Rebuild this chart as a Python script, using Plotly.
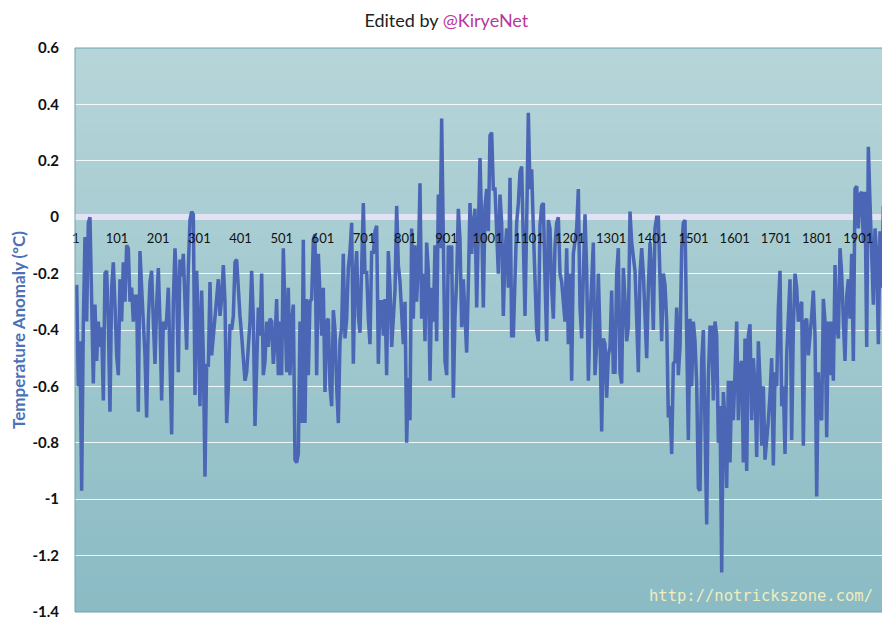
import numpy as np
import plotly.graph_objects as go

# anomaly readings (degC), about one every 4 years, split into stretches
ANOM_1 = [
    -0.24, -0.60, -0.44, -0.97, -0.38, -0.07, -0.37, -0.02, 0.00, -0.25,
    -0.59, -0.31, -0.51, -0.37, -0.46, -0.39, -0.65, -0.20, -0.19, -0.37,
    -0.69, -0.25, -0.16, -0.31, -0.49, -0.56, -0.22, -0.37, -0.16, -0.30,
    -0.10, -0.11, -0.30, -0.25, -0.37, -0.28, -0.28, -0.69, -0.12, -0.25,
    -0.39, -0.49, -0.71, -0.37, -0.23, -0.19, -0.37, -0.52, -0.31, -0.18,
    -0.37, -0.65, -0.37,
]
ANOM_2 = [
    -0.40, -0.36, -0.25, -0.51, -0.77, -0.30, -0.11, -0.25, -0.55, -0.15,
    -0.21, -0.13, -0.31, -0.47, -0.18, -0.01, 0.02, 0.01, -0.63, -0.19,
    -0.37, -0.67, -0.26, -0.49, -0.92, -0.52, -0.53, -0.23, -0.49, -0.43,
    -0.37, -0.30, -0.22, -0.35, -0.29, -0.17, -0.30, -0.73, -0.60, -0.38,
    -0.40, -0.35, -0.16, -0.15, -0.28, -0.35, -0.42, -0.49, -0.58, -0.55,
    -0.44, -0.37, -0.19, -0.36, -0.74, -0.51, -0.32,
]
ANOM_3 = [
    -0.42, -0.20, -0.56, -0.51, -0.37, -0.46, -0.36, -0.37, -0.52, -0.44,
    -0.29, -0.56, -0.37, -0.56, -0.11, -0.35, -0.55, -0.25, -0.56, -0.37,
    -0.31, -0.86, -0.87, -0.84, -0.37, -0.73, -0.08, -0.73, -0.29, -0.56,
    -0.30, -0.29, -0.08, -0.06, -0.56, -0.13, -0.25, -0.42, -0.25, -0.62,
    -0.37, -0.36, -0.60, -0.67, -0.33, -0.40, -0.60, -0.73, -0.44, -0.39,
    -0.13, -0.43, -0.36, -0.18, -0.12, -0.02, -0.52,
]
ANOM_4 = [
    -0.22, -0.12, -0.35, -0.41, -0.13, 0.05, -0.20, -0.19, -0.36, -0.45,
    -0.12, -0.13, -0.05, -0.03, -0.52, -0.30, -0.30, -0.42, -0.29, -0.56,
    -0.12, -0.25, -0.46, -0.37, -0.26, 0.04, -0.17, -0.23, -0.37, -0.45,
    -0.30, -0.80, -0.57, -0.72, -0.04, -0.36, -0.10, -0.30, -0.16, 0.12,
    -0.36, -0.20, -0.44, -0.09, -0.19, -0.58, -0.25, -0.37, -0.10, -0.44,
    0.08, -0.11, 0.35, -0.11, -0.51, -0.56, -0.10,
]
ANOM_5 = [
    -0.20, -0.10, -0.64, -0.35, -0.22, 0.03, -0.08, -0.39, -0.22, -0.37,
    -0.48, -0.24, 0.05, -0.13, -0.02, 0.03, -0.32, -0.05, 0.21, -0.02,
    -0.32, 0.04, 0.10, -0.05, 0.29, 0.30, 0.10, 0.10, -0.02, -0.20,
    0.08, -0.02, -0.35, -0.13, -0.04, -0.25, 0.14, -0.42, -0.42, -0.16,
    -0.02, 0.05, 0.16, 0.18, -0.05, -0.35, -0.02, 0.37, 0.10, 0.17,
    -0.04, -0.25, -0.40, -0.44, -0.03, 0.04, 0.05,
]
ANOM_6 = [
    -0.22, -0.44, -0.01, -0.04, -0.25, -0.36, -0.10, -0.02, 0.00, -0.20,
    -0.23, -0.30, -0.37, -0.11, -0.45, -0.20, -0.58, -0.13, -0.09, -0.04,
    0.10, -0.32, -0.43, -0.16, 0.01, -0.19, -0.58, -0.37, -0.22, -0.09,
    -0.56, -0.45, -0.20, -0.42, -0.76, -0.43, -0.45, -0.64, -0.49, -0.46,
    -0.26, -0.55, -0.55, -0.20, -0.11, -0.55, -0.59, -0.18, -0.29, -0.44,
    -0.39, 0.02, -0.09, -0.13, -0.19, -0.36, -0.55,
]
ANOM_7 = [
    -0.20, -0.11, -0.20, -0.32, -0.50, -0.25, -0.09, -0.20, -0.40, -0.04,
    0.00, 0.00, -0.23, -0.44, -0.20, -0.24, -0.37, -0.71, -0.67, -0.84,
    -0.52, -0.51, -0.32, -0.56, -0.46, -0.11, -0.02, -0.01, -0.42, -0.79,
    -0.36, -0.60, -0.37, -0.44, -0.59, -0.96, -0.97, -0.51, -0.40, -0.71,
    -1.09, -0.57, -0.39, -0.39, -0.65, -0.37, -0.42, -0.80, -0.67, -1.26,
    -0.62, -0.72, -0.96, -0.58, -0.87, -0.58, -0.72,
]
ANOM_8 = [
    -0.55, -0.37, -0.72, -0.53, -0.51, -0.87, -0.43, -0.90, -0.42, -0.38,
    -0.72, -0.50, -0.60, -0.85, -0.44, -0.58, -0.81, -0.60, -0.86, -0.80,
    -0.72, -0.63, -0.50, -0.88, -0.55, -0.60, -0.32, -0.19, -0.67, -0.60,
    -0.84, -0.49, -0.31, -0.22, -0.79, -0.39, -0.20, -0.25, -0.37, -0.32,
    -0.30, -0.81, -0.37, -0.36, -0.49, -0.43, -0.35, -0.26, -0.42, -0.99,
    -0.55,
]
ANOM_9 = [
    -0.70, -0.72, -0.29, -0.37, -0.78, -0.37, -0.56, -0.37, -0.58, -0.17,
    -0.39, -0.43, -0.11, -0.20, -0.37, -0.51, -0.28, -0.22, -0.36, -0.13,
    -0.51, 0.10, 0.11, -0.04, 0.08, 0.09, -0.09, 0.09, -0.46, 0.25,
    0.05, -0.11, -0.31, -0.04, -0.13, -0.45, -0.05, -0.25, 0.04,
]
FIRST_YEAR = 3
LAST_YEAR = 1962

X_TICKS = [1, 101, 201, 301, 401, 501, 601, 701, 801, 901,
           1001, 1101, 1201, 1301, 1401, 1501, 1601, 1701, 1801, 1901]
Y_TICKS = [0.6, 0.4, 0.2, 0.0, -0.2, -0.4, -0.6, -0.8, -1.0, -1.2, -1.4]
Y_TICK_TEXT = ["0.6", "0.4", "0.2", "0", "-0.2", "-0.4", "-0.6", "-0.8",
               "-1", "-1.2", "-1.4"]

anomaly = ANOM_1 + ANOM_2 + ANOM_3 + ANOM_4 + ANOM_5 + ANOM_6 + ANOM_7 + ANOM_8 + ANOM_9
years = np.linspace(FIRST_YEAR, LAST_YEAR, len(anomaly))

Y_MIN, Y_MAX = -1.4, 0.6
TOP_RGB = (182, 213, 217)
BOTTOM_RGB = (139, 187, 196)

fig = go.Figure()

# vertical gradient of the plot background, built from overlapping strips
n_strips = 60
step = (Y_MAX - Y_MIN) / n_strips
for i in range(n_strips):
    t = i / (n_strips - 1)
    r, g, b = (round(a + (c - a) * t) for a, c in zip(TOP_RGB, BOTTOM_RGB))
    y1 = Y_MAX - step * i
    y0 = max(Y_MIN, y1 - step * 1.6)
    fig.add_shape(
        type="rect", xref="paper", yref="y",
        x0=0, x1=1, y0=y0, y1=y1,
        fillcolor=f"rgb({r},{g},{b})", line={"width": 0}, layer="below",
    )

fig.add_shape(
    type="rect", xref="paper", yref="paper", x0=0, x1=1, y0=0, y1=1,
    line={"color": "#6fa3ad", "width": 1}, layer="above",
)

fig.add_trace(
    go.Scatter(
        x=years, y=anomaly, mode="lines",
        line={"color": "#4a66b4", "width": 3.5},
        hoverinfo="skip", showlegend=False,
    )
)

fig.add_annotation(
    text="http://notrickszone.com/", xref="paper", yref="paper",
    x=0.988, y=0.008, xanchor="right", yanchor="bottom", showarrow=False,
    font={"family": "DejaVu Sans Mono", "size": 15.5, "color": "#eeeec0"},
)

# the page body adds an 8px offset, so the figure is 8px smaller each way
fig.update_layout(
    width=882, height=616,
    margin={"l": 67, "r": 5, "t": 40, "b": 12},
    paper_bgcolor="white",
    plot_bgcolor="rgba(0,0,0,0)",
    showlegend=False,
    title={
        "text": "Edited by <span style='color:#b8379e'>@KiryeNet</span>",
        "x": 0.497, "xanchor": "center", "y": 0.979, "yanchor": "middle",
        "yref": "container",
        "font": {"family": "Lato", "size": 18, "color": "#222222"},
    },
    xaxis={
        "range": [-1, 1966],
        "anchor": "free",
        "position": (0 - Y_MIN) / (Y_MAX - Y_MIN),
        "tickmode": "array",
        "tickvals": X_TICKS,
        "ticktext": [str(v) for v in X_TICKS],
        "ticks": "outside", "ticklen": 9, "tickcolor": "rgba(0,0,0,0)",
        "tickfont": {"family": "Lato", "size": 13, "color": "#111111"},
        "showgrid": False, "zeroline": False, "showline": False,
    },
    yaxis={
        "range": [Y_MIN, Y_MAX],
        "tickmode": "array",
        "tickvals": Y_TICKS,
        "ticktext": Y_TICK_TEXT,
        "ticks": "outside", "ticklen": 12, "tickcolor": "rgba(0,0,0,0)",
        "tickfont": {"family": "Lato", "size": 15, "color": "#111111",
                     "weight": 700},
        "showgrid": True, "gridcolor": "rgba(255,255,255,0.85)", "gridwidth": 1.2,
        "zeroline": True, "zerolinecolor": "#e2e2f4", "zerolinewidth": 6,
        "showline": False,
        "title": {
            "text": "Temperature Anomaly (ºC)",
            "font": {"family": "Lato", "size": 17, "color": "#4a72b8",
                     "weight": 700},
            "standoff": 4,
        },
    },
)

fig.write_html("out.html")
